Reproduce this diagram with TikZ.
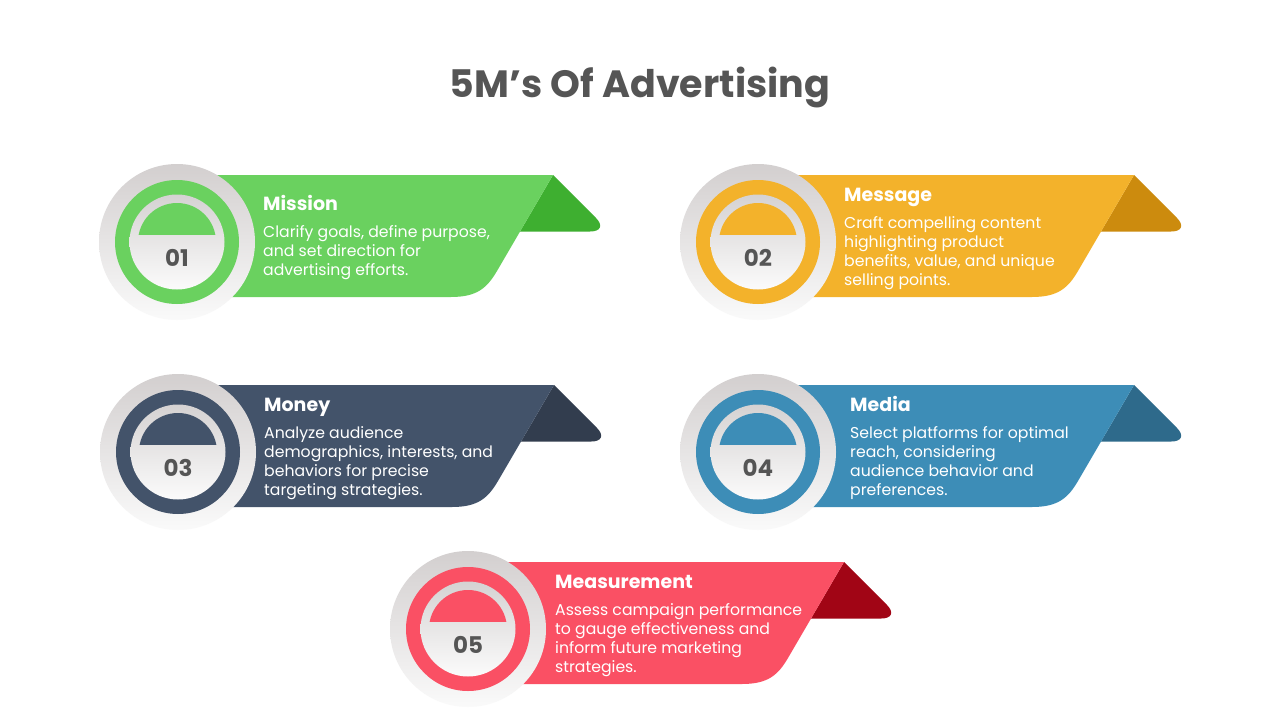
\documentclass[tikz,border=0pt]{standalone}
\usepackage{fontspec}
\setmainfont{Poppins}
\definecolor{gA}{HTML}{6AD15F}\definecolor{gB}{HTML}{3EAF30}
\definecolor{oA}{HTML}{F3B22B}\definecolor{oB}{HTML}{CC8B0E}
\definecolor{nA}{HTML}{43536A}\definecolor{nB}{HTML}{323D4E}
\definecolor{bA}{HTML}{3D8DB7}\definecolor{bB}{HTML}{2E6A8B}
\definecolor{rA}{HTML}{FA5064}\definecolor{rB}{HTML}{A10515}
\definecolor{outA}{HTML}{D3CFCF}\definecolor{outB}{HTML}{FAFAFA}
\definecolor{inA}{HTML}{D5D2D2}\definecolor{inB}{HTML}{FBFBFB}
\definecolor{numc}{HTML}{555555}
\tikzset{
  numtxt/.style={font=\fontsize{23}{24}\selectfont\bfseries, text=numc, inner sep=0pt},
  headtxt/.style={font=\fontsize{19}{22}\selectfont\bfseries, text=white, inner sep=0pt},
  bodytxt/.style={font=\fontsize{15.7}{19}\selectfont, text=white, inner sep=0pt, align=left},
  titletxt/.style={font=\fontsize{38}{40}\selectfont\bfseries, text=numc, inner sep=0pt}
}
\newcommand\adsitem[9]{%
\begin{scope}[shift={(#2,#3)}]
 \fill[#5] (376,-67) -- (418.9,-24.1) .. controls (426.4,-16.6) and (423.8,-10.5) .. (413.2,-10.5) -- (343,-10.5) -- cycle;
 \fill[#4] (38,-67) -- (376,-67) -- (320,29) .. controls (310,46) and (300,55) .. (274,55) -- (38,55) -- cycle;
 \shade[top color=outA, bottom color=outB] (0,0) circle (78);
 \fill[#4] (0,0) circle (62);
 \shade[top color=inA, bottom color=inB] (0,0) circle (47.5);
 \begin{scope}\clip (-45,-45) rectangle (45,-8); \fill[#4] (0,0) circle (39);\end{scope}
 \node[numtxt] (#1n) at (0,16) {#6};
 \pgfmathsetmacro\hb{1-(27+19*(#9-1))/2}
 \pgfmathsetmacro\lb{\hb+27+19*(#9-1)}
 \node[headtxt, anchor=base west] (#1h) at (\txoff,\hb) {#7};
 \node[bodytxt, anchor=base west] (#1b) at (\txoff,\lb) {#8};
\end{scope}}
\begin{document}
\begin{tikzpicture}[x=1pt,y=-1pt]
\fill[white] (0,0) rectangle (1280,720);
\useasboundingbox (0,0) rectangle (1280,720);
\node[titletxt, anchor=base] (title) at (640,97) {5M’s Of Advertising};
\def\txoff{86}
\adsitem{i1}{177}{242}{gA}{gB}{01}{Mission}{Clarify goals, define purpose,\\and set direction for\\advertising efforts.}{3}
\adsitem{i2}{758}{242}{oA}{oB}{02}{Message}{Craft compelling content\\highlighting product\\benefits, value, and unique\\selling points.}{4}
\adsitem{i3}{178}{452}{nA}{nB}{03}{Money}{Analyze audience\\demographics, interests, and\\behaviors for precise\\targeting strategies.}{4}
\def\txoff{92}
\adsitem{i4}{758}{452}{bA}{bB}{04}{Media}{Select platforms for optimal\\reach, considering\\audience behavior and\\preferences.}{4}
\def\txoff{87}
\adsitem{i5}{468}{629}{rA}{rB}{05}{Measurement}{Assess campaign performance\\to gauge effectiveness and\\inform future marketing\\strategies.}{4}
\end{tikzpicture}
\end{document}
